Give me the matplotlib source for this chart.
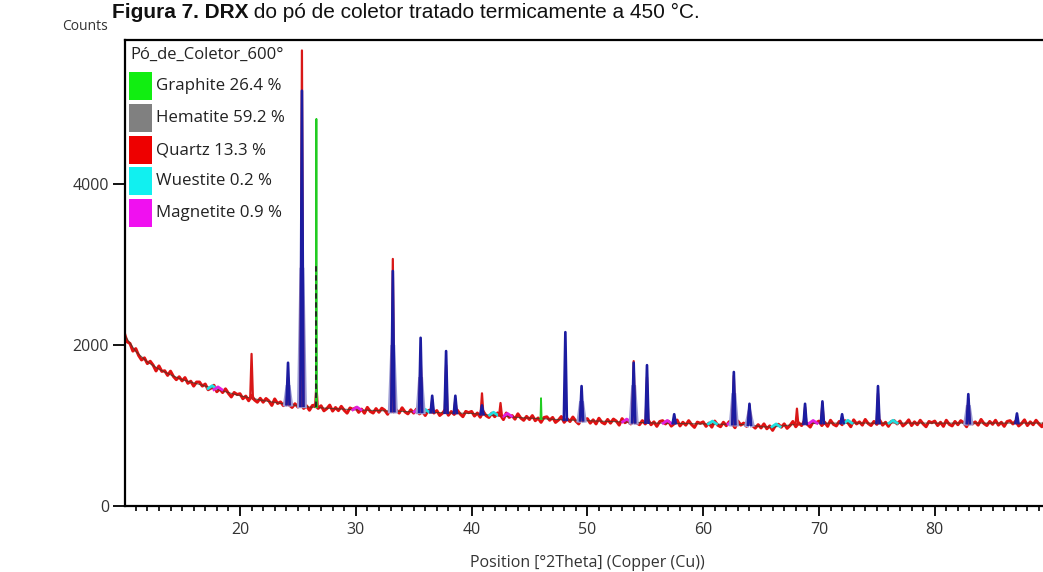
import numpy as np
import matplotlib
matplotlib.use("Agg")
import matplotlib.pyplot as plt
from matplotlib.patches import Rectangle
from matplotlib.ticker import MultipleLocator

W, H = 1043, 572

# ---------------- data ----------------
obs_start = 10.0
obs_step = 0.25
obs_counts = [
    2155, 2040, 2020, 1925, 1955, 1870, 1815, 1840, 1770, 1798, 1750, 1678,
    1740, 1673, 1680, 1623, 1675, 1610, 1570, 1605, 1555, 1595, 1525, 1550,
    1490, 1540, 1540, 1490, 1515, 1445, 1465, 1500, 1420, 1455, 1410, 1455,
    1400, 1355, 1410, 1385, 1395, 1333, 1365, 1308, 1375, 1318, 1290, 1338,
    1290, 1335, 1305, 1250, 1330, 1274, 1293, 1247, 1310, 1255, 1225, 1270,
    1230, 1276, 1213, 1244, 1190, 1248, 1255, 1213, 1245, 1183, 1210, 1253,
    1180, 1223, 1185, 1238, 1190, 1154, 1218, 1201, 1220, 1164, 1203, 1153,
    1225, 1175, 1155, 1210, 1165, 1215, 1190, 1140, 1220, 1170, 1195, 1155,
    1220, 1170, 1145, 1195, 1155, 1205, 1145, 1180, 1125, 1185, 1195, 1155,
    1185, 1125, 1155, 1200, 1128, 1173, 1138, 1193, 1145, 1110, 1175, 1160,
    1175, 1118, 1155, 1103, 1175, 1123, 1100, 1153, 1110, 1156, 1128, 1074,
    1155, 1101, 1123, 1079, 1145, 1093, 1065, 1113, 1075, 1123, 1060, 1093,
    1040, 1099, 1108, 1066, 1100, 1039, 1068, 1111, 1040, 1085, 1050, 1105,
    1055, 1020, 1085, 1070, 1085, 1030, 1070, 1020, 1090, 1040, 1020, 1075,
    1030, 1080, 1055, 1005, 1085, 1035, 1060, 1020, 1085, 1035, 1010, 1060,
    1020, 1070, 1010, 1045, 990, 1050, 1060, 1020, 1053, 993, 1023, 1068,
    995, 1040, 1005, 1060, 1012, 977, 1042, 1027, 1045, 990, 1030, 980,
    1055, 1005, 985, 1040, 998, 1048, 1023, 973, 1055, 1005, 1030, 990,
    1055, 1000, 968, 1010, 970, 1020, 960, 995, 940, 1002, 1015, 980,
    1020, 965, 1000, 1050, 985, 1033, 1000, 1057, 1015, 981, 1048, 1034,
    1055, 1000, 1040, 990, 1065, 1015, 995, 1050, 1010, 1060, 1035, 985,
    1070, 1020, 1045, 1005, 1075, 1025, 1000, 1050, 1015, 1065, 1005, 1040,
    990, 1050, 1060, 1020, 1055, 995, 1025, 1070, 1000, 1045, 1010, 1065,
    1020, 985, 1050, 1035, 1055, 1000, 1040, 990, 1065, 1015, 995, 1050,
    1010, 1060, 1035, 985, 1070, 1020, 1045, 1005, 1075, 1025, 1000, 1050,
    1015, 1065, 1005, 1040, 990, 1050, 1060, 1020, 1055, 995, 1025, 1070,
    1000, 1045, 1010, 1065, 1020, 985, 1050, 1035,
]

# calculated background
bg_pos = [10, 11, 12, 13, 14, 15, 16, 17, 18, 19, 20, 22, 24, 26, 28, 30, 33,
          36, 40, 44, 48, 52, 56, 60, 64, 65, 66, 68, 70, 80, 89.75]
bg_counts = [2130, 1920, 1790, 1700, 1630, 1570, 1530, 1490, 1450, 1410, 1370,
             1310, 1265, 1230, 1210, 1195, 1180, 1165, 1150, 1100, 1070, 1050,
             1030, 1020, 1010, 985, 980, 1015, 1030, 1030, 1030]

# observed peaks (red)
obs_peak_pos = [21.0, 24.15, 25.35, 26.6, 33.2, 35.6, 36.6, 37.8, 38.6, 40.9,
                42.5, 49.5, 54.0, 55.15, 62.65, 64.0, 68.1, 68.8, 70.3, 75.1, 82.9]
obs_peak_top = [1890, 1600, 5660, 1500, 3070, 1900, 1320, 1750, 1330, 1400,
                1280, 1350, 1800, 1600, 1620, 1250, 1210, 1230, 1280, 1400, 1330]
obs_peak_base = [1330, 1265, 1245, 1230, 1180, 1170, 1165, 1158, 1155, 1140,
                 1125, 1065, 1040, 1035, 1018, 1010, 1015, 1020, 1030, 1030, 1030]

# calculated peaks (dark blue)
calc_peak_pos = [24.15, 25.35, 33.2, 35.6, 36.6, 37.8, 38.6, 40.9, 48.1, 49.5,
                 54.0, 55.15, 57.5, 62.65, 64.0, 68.8, 70.3, 72.0, 75.1, 82.9, 87.1]
calc_peak_top = [1780, 5160, 2920, 2090, 1370, 1925, 1370, 1250, 2160, 1490,
                 1780, 1750, 1140, 1665, 1270, 1270, 1300, 1140, 1490, 1390, 1150]
calc_peak_base = [1265, 1245, 1180, 1170, 1165, 1158, 1155, 1140, 1070, 1065,
                  1040, 1035, 1028, 1018, 1010, 1020, 1030, 1030, 1030, 1030, 1030]

# hematite profile (grey / lavender)
hem_pos = [24.15, 25.35, 33.2, 35.6, 49.5, 54.0, 62.65, 64.0, 82.9]
hem_top = [1500, 2960, 2000, 1600, 1300, 1500, 1400, 1150, 1250]
hem_base = [1265, 1245, 1180, 1170, 1065, 1040, 1018, 1010, 1030]

# graphite profile (green)
gra_pos = [26.6, 46.0]
gra_top = [4810, 1340]
gra_base = [1230, 1080]
gra_stick_top = 2980

# wuestite (cyan) and magnetite (magenta) small contributions
wue_pos = [17.6, 36.0, 41.9, 60.8, 66.3, 72.5, 76.4]
wue_base = [1460, 1165, 1130, 1020, 985, 1030, 1030]
mag_pos = [18.1, 30.1, 35.4, 43.1, 53.4, 56.9, 62.5, 69.5]
mag_base = [1445, 1195, 1170, 1115, 1045, 1028, 1018, 1028]

legend_title = "Pó_de_Coletor_600°"
legend_labels = ["Graphite 26.4 %", "Hematite 59.2 %", "Quartz 13.3 %",
                 "Wuestite 0.2 %", "Magnetite 0.9 %"]
legend_colors = ["#11ee11", "#808080", "#ee0000", "#11f0f0", "#f010f0"]

x_ticks = [20, 30, 40, 50, 60, 70, 80]
y_ticks = [0, 2000, 4000]

caption_bold = "Figura 7. DRX"
caption_rest = " do pó de coletor tratado termicamente a 450 °C."

# ---------------- drawing ----------------
FONT = "Open Sans"
fig = plt.figure(figsize=(W / 100, H / 100), dpi=100)
ax = fig.add_axes([125 / W, 66 / H, 1 - 125 / W, (506 - 40) / H])

obs_x = obs_start + obs_step * np.arange(len(obs_counts))
ax.plot(obs_x, obs_counts, color="#e01212", lw=2.2, zorder=2)
ax.plot(bg_pos, bg_counts, color="#3a3a2a", lw=0.8, alpha=0.7, zorder=2.5)


def peak(p, b, t, hw, **kw):
    ax.plot([p - hw, p, p + hw], [b, t, b], **kw)


for p, b, t in zip(hem_pos, hem_base, hem_top):
    peak(p, b, t, 0.22, color="#9c9cd4", lw=3.5, zorder=3, solid_joinstyle="miter")
for p, b, t in zip(obs_peak_pos, obs_peak_base, obs_peak_top):
    peak(p, b, t, 0.12, color="#d81818", lw=1.6, zorder=3.5)
for p, b, t in zip(calc_peak_pos, calc_peak_base, calc_peak_top):
    peak(p, b, t, 0.13, color="#1c1ca0", lw=1.9, zorder=4)
for p, b, t in zip(gra_pos, gra_base, gra_top):
    peak(p, b, t, 0.05, color="#22cc22", lw=1.3, zorder=4.5)
ax.plot([gra_pos[0], gra_pos[0]], [gra_base[0], gra_stick_top], color="#202020",
        lw=1.3, ls=(0, (3, 2)), zorder=4.6)
for p, b in zip(wue_pos, wue_base):
    ax.plot([p - 0.35, p, p + 0.35], [b, b + 35, b], color="#20e0e0", lw=2.0, zorder=2.6)
for p, b in zip(mag_pos, mag_base):
    ax.plot([p - 0.35, p, p + 0.35], [b, b + 35, b], color="#e020e0", lw=2.0, zorder=2.6)

ax.set_xlim(10.07, 89.35)
ax.set_ylim(0, 5790)
ax.set_xticks(x_ticks)
ax.set_xticklabels([str(v) for v in x_ticks], fontfamily=FONT, fontsize=11.5, color="#333333")
ax.xaxis.set_minor_locator(MultipleLocator(1))
ax.set_yticks(y_ticks)
ax.set_yticklabels([str(v) for v in y_ticks], fontfamily=FONT, fontsize=11.5, color="#333333")
ax.tick_params(axis="x", which="major", length=7.5, width=1.3, pad=4)
ax.tick_params(axis="x", which="minor", length=3.5, width=1.2)
ax.tick_params(axis="y", which="major", length=8.5, width=1.3, pad=3)
for s in ["top", "left", "bottom"]:
    ax.spines[s].set_linewidth(1.6)
ax.spines["right"].set_visible(False)
ax.set_xlabel("Position [°2Theta] (Copper (Cu))", fontfamily=FONT, fontsize=11.5,
              color="#333333", labelpad=0)
ax.xaxis.set_label_coords((587 - 125) / (W - 125), -(555 - 506) / (506 - 40))

fig.text(62 / W, 1 - 26 / H, "Counts", fontfamily=FONT, fontsize=10, color="#333333",
         va="center", ha="left")


def fx(px):
    return px / W


def fy(py):
    return 1 - py / H


# legend drawn in figure pixels
fig.text(fx(130), fy(55), legend_title, fontfamily=FONT, fontsize=12, color="#222222",
         va="center", ha="left")
row_y = [86, 118, 150, 181, 213]
for yc, lab, col in zip(row_y, legend_labels, legend_colors):
    fig.patches.append(Rectangle((fx(129), fy(yc + 14)), 23 / W, 28 / H,
                                 transform=fig.transFigure, facecolor=col,
                                 edgecolor="none", zorder=5))
    fig.text(fx(156), fy(yc), lab, fontfamily=FONT, fontsize=12.2, color="#222222",
             va="center", ha="left")

# caption at the very top (kept fully visible)
t1 = fig.text(fx(112), fy(18), caption_bold, fontfamily="Liberation Sans",
              fontweight="bold", fontsize=15, color="#111111", va="baseline", ha="left")
renderer = fig.canvas.get_renderer()
bb = t1.get_window_extent(renderer=renderer)
fig.text(bb.x1 / W, fy(18), caption_rest, fontfamily="Liberation Sans",
         fontsize=15, color="#111111", va="baseline", ha="left")

fig.savefig("out.png", dpi=100)
